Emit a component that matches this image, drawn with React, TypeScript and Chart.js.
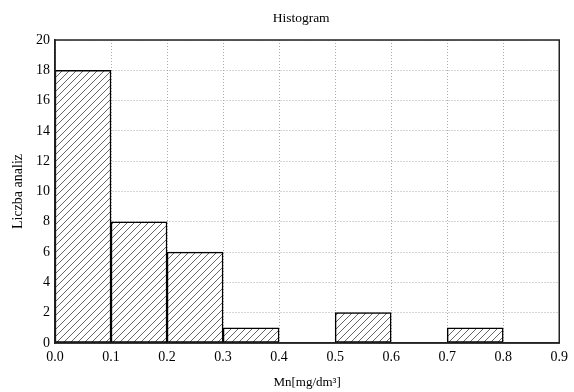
import React, { useEffect, useRef } from "react";
import { Chart, registerables } from "chart.js";

Chart.register(...registerables);

const binCenters = [0.05, 0.15, 0.25, 0.35, 0.45, 0.55, 0.65, 0.75, 0.85];
const counts = [18, 8, 6, 1, 0, 2, 0, 1, 0];
const titleText = "Histogram";
const xTitle = "Mn[mg/dm³]";
const yTitle = "Liczba analiz";

const FONT = "'Liberation Serif', 'Times New Roman', serif";

function makeHatch(): CanvasPattern | string {
  const s = 7;
  const c = document.createElement("canvas");
  c.width = s;
  c.height = s;
  const g = c.getContext("2d");
  if (!g) return "#fff";
  g.fillStyle = "#ffffff";
  g.fillRect(0, 0, s, s);
  g.strokeStyle = "#666";
  g.lineWidth = 1;
  g.beginPath();
  g.moveTo(0, s);
  g.lineTo(s, 0);
  g.moveTo(-1, 1);
  g.lineTo(1, -1);
  g.moveTo(s - 1, s + 1);
  g.lineTo(s + 1, s - 1);
  g.stroke();
  const p = g.createPattern(c, "repeat");
  return p || "#fff";
}

const frame = {
  id: "frame",
  afterDatasetsDraw(chart: any) {
    const { ctx, chartArea } = chart;
    ctx.save();
    ctx.strokeStyle = "#222";
    ctx.lineWidth = 1.5;
    ctx.strokeRect(chartArea.left, chartArea.top, chartArea.right - chartArea.left, chartArea.bottom - chartArea.top);
    ctx.restore();
  },
  afterDraw(chart: any) {
    const { ctx, chartArea } = chart;
    ctx.save();
    ctx.fillStyle = "#000";
    ctx.font = `13.5px ${FONT}`;
    ctx.textAlign = "center";
    ctx.textBaseline = "middle";
    ctx.fillText(titleText, (chartArea.left + chartArea.right) / 2 - 6, chartArea.top / 2 - 2);
    ctx.restore();
  },
};

export default function App() {
  const ref = useRef<HTMLCanvasElement>(null);
  useEffect(() => {
    if (!ref.current) return;
    const chart = new Chart(ref.current, {
      type: "bar",
      data: {
        datasets: [
          {
            data: binCenters.map((x, i) => ({ x, y: counts[i] })),
            backgroundColor: makeHatch() as any,
            borderColor: "#000",
            borderWidth: 1.5,
            borderSkipped: false,
            barPercentage: 1,
            categoryPercentage: 1,
          },
        ],
      },
      options: {
        responsive: false,
        animation: false,
        devicePixelRatio: 1,
        layout: { padding: { left: 0, right: 14, top: 40, bottom: 0 } },
        plugins: {
          legend: { display: false },
          tooltip: { enabled: false },
          title: { display: false },
        },
        scales: {
          x: {
            type: "linear",
            min: 0,
            max: 0.9,
            offset: false,
            ticks: {
              stepSize: 0.1,
              color: "#000",
              font: { family: FONT, size: 14 },
              padding: 6,
              maxRotation: 0,
              callback: (v: any) => Number(v).toFixed(1),
            },
            grid: {
              color: "#aaa",
              drawTicks: false,
              offset: false,
            },
            border: { display: true, color: "#222", width: 1.5, dash: [1, 2] } as any,
            title: {
              display: true,
              text: xTitle,
              color: "#000",
              font: { family: FONT, size: 13 },
              padding: { top: 0, bottom: 2 },
            },
            afterFit: (scale: any) => {
              scale.height = 49;
            },
          },
          y: {
            min: 0,
            max: 20,
            ticks: {
              stepSize: 2,
              color: "#000",
              font: { family: FONT, size: 14 },
              padding: 5,
            },
            grid: {
              color: "#aaa",
              drawTicks: false,
            },
            border: { display: true, color: "#222", width: 1.5, dash: [1, 2] } as any,
            title: {
              display: true,
              text: yTitle,
              color: "#000",
              font: { family: FONT, size: 14 },
              padding: { top: 10, bottom: 0 },
            },
            afterFit: (scale: any) => {
              scale.width = 55;
            },
          },
        },
      },
      plugins: [frame],
    });
    return () => chart.destroy();
  }, []);
  return (
    <div style={{ position: "fixed", left: 0, top: 0, width: 574, height: 392, background: "#fff" }}>
      <canvas ref={ref} width={574} height={392} />
    </div>
  );
}
